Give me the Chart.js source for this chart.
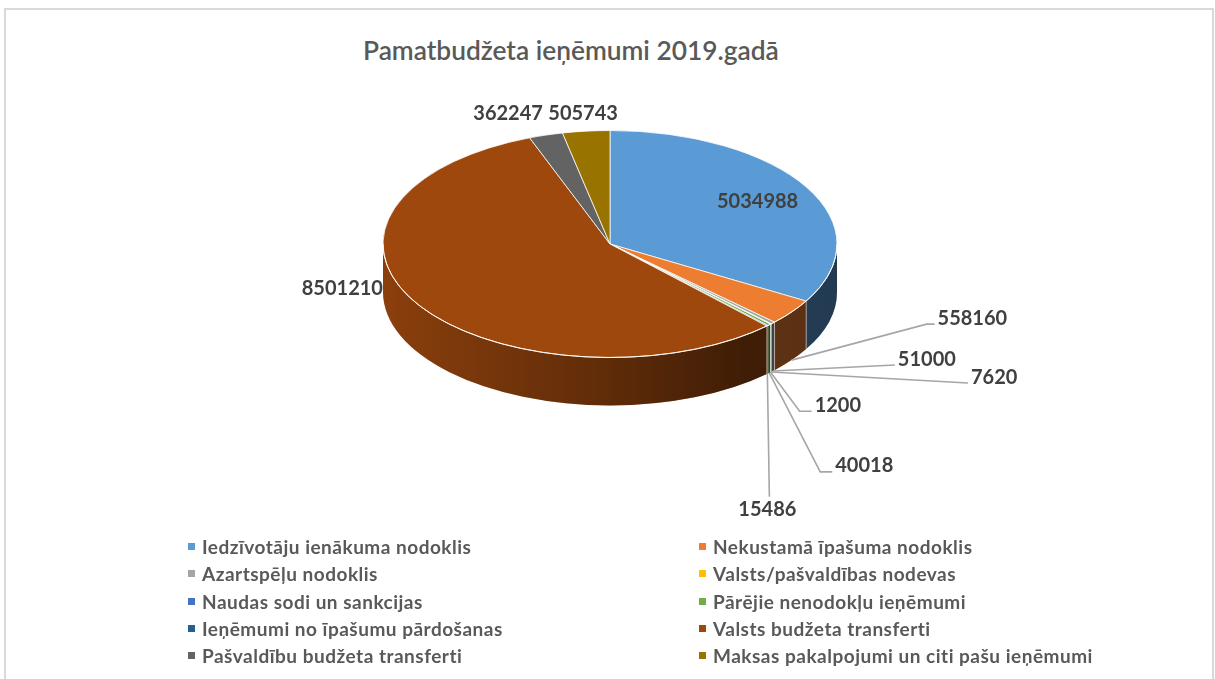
<!DOCTYPE html>
<html>
<head>
<meta charset="utf-8">
<script src="https://cdn.jsdelivr.net/npm/chart.js@4.4.1/dist/chart.umd.min.js"></script>
<style>
  html, body { margin: 0; padding: 0; background: #fff; overflow: hidden; }
  body { width: 1215px; height: 679px; position: relative; font-family: Lato, "Open Sans", sans-serif; }
  #frame { position: absolute; left: 4px; top: 8px; width: 1210px; height: 720px; border: 2px solid #d9d9d9; box-sizing: border-box; }
  #title { position: absolute; left: 363px; top: 35px; font-size: 26.3px; line-height: 30px; color: #595959; font-weight: 600; white-space: nowrap; }
  #chart { position: absolute; left: 0; top: 0; }
  #legend { position: absolute; left: 188px; top: 533px; display: grid; grid-template-columns: 511px 420px; grid-auto-rows: 27.3px; font-size: 19px; letter-spacing: 0.5px; font-weight: 700; color: #595959; }
  .item { display: flex; align-items: center; white-space: nowrap; }
  .box { width: 7px; height: 7px; margin-right: 7px; flex: none; }
</style>
</head>
<body>
<div id="frame"></div>
<div id="title">Pamatbudžeta ieņēmumi 2019.gadā</div>
<canvas id="chart" width="1215" height="679"></canvas>
<div id="legend"></div>
<script>
const labels = [
  "Iedzīvotāju ienākuma nodoklis",
  "Nekustamā īpašuma nodoklis",
  "Azartspēļu nodoklis",
  "Valsts/pašvaldības nodevas",
  "Naudas sodi un sankcijas",
  "Pārējie nenodokļu ieņēmumi",
  "Ieņēmumi no īpašumu pārdošanas",
  "Valsts budžeta transferti",
  "Pašvaldību budžeta transferti",
  "Maksas pakalpojumi un citi pašu ieņēmumi"
];
const values = [5034988, 558160, 51000, 7620, 1200, 40018, 15486, 8501210, 362247, 505743];
const colors = ["#5b9bd5", "#ed7d31", "#a5a5a5", "#ffc000", "#4472c4", "#70ad47", "#255e91", "#9e480e", "#636363", "#997300"];

// where each value label goes, relative to its slice
const placement = [
  { type: "inside", k: 0.75 },
  { type: "callout", dx: 135, dy: -36, tail: 8 },
  { type: "callout", dx: 122, dy: -6, tail: 0 },
  { type: "callout", dx: 197, dy: 11, tail: 0 },
  { type: "callout", dx: 29, dy: 39, tail: 12 },
  { type: "callout", dx: 51, dy: 99, tail: 12 },
  { type: "callout", dx: 2, dy: 123, tail: 0, below: true },
  { type: "outside", dx: -35, dy: -16, align: "right" },
  { type: "outside", dx: -3, dy: -22, align: "right" },
  { type: "outside", dx: -3, dy: -18, align: "center" }
];

const DEPTH = 48;
const SQUASH = 0.5;

const pie3d = {
  id: "pie3d",
  beforeDatasetsDraw(chart) {
    const ctx = chart.ctx;
    const arcs = chart.getDatasetMeta(0).data;
    const cx = arcs[0].x, cy = arcs[0].y, rx = arcs[0].outerRadius, ry = rx * SQUASH;

    const grad = ctx.createLinearGradient(cx - rx, 0, cx + rx, 0);
    grad.addColorStop(0, "rgba(0,0,0,0.12)");
    grad.addColorStop(0.5, "rgba(0,0,0,0.40)");
    grad.addColorStop(0.8, "rgba(0,0,0,0.60)");
    grad.addColorStop(1, "rgba(0,0,0,0.62)");

    ctx.save();
    arcs.forEach((arc) => {
      const a1 = Math.max(arc.startAngle, 0), a2 = Math.min(arc.endAngle, Math.PI);
      if (a2 <= a1) return;
      ctx.beginPath();
      ctx.ellipse(cx, cy, rx, ry, 0, a1, a2);
      ctx.ellipse(cx, cy + DEPTH, rx, ry, 0, a2, a1, true);
      ctx.closePath();
      ctx.fillStyle = arc.options.backgroundColor;
      ctx.fill();
      ctx.fillStyle = grad;
      ctx.fill();
    });
    // seams between slices on the side
    ctx.strokeStyle = "rgba(255,255,255,0.45)";
    ctx.lineWidth = 1;
    arcs.forEach((arc) => {
      const a = arc.startAngle;
      if (a <= 0 || a >= Math.PI) return;
      const x = cx + rx * Math.cos(a), y = cy + ry * Math.sin(a);
      ctx.beginPath();
      ctx.moveTo(x, y);
      ctx.lineTo(x, y + DEPTH);
      ctx.stroke();
    });
    ctx.restore();

    ctx.save();
    ctx.translate(cx, cy);
    ctx.scale(1, SQUASH);
    ctx.translate(-cx, -cy);
  },
  afterDatasetsDraw(chart) {
    const ctx = chart.ctx;
    ctx.restore();
    const arcs = chart.getDatasetMeta(0).data;
    const cx = arcs[0].x, cy = arcs[0].y, rx = arcs[0].outerRadius, ry = rx * SQUASH;

    ctx.save();
    ctx.strokeStyle = "rgba(255,255,255,0.9)";
    ctx.lineWidth = 1;
    ctx.beginPath();
    ctx.ellipse(cx, cy, rx, ry, 0, 0, Math.PI);
    ctx.stroke();

    ctx.font = "bold 20px Lato, 'Open Sans', sans-serif";
    ctx.fillStyle = "#404040";
    ctx.textBaseline = "middle";
    ctx.strokeStyle = "#a6a6a6";
    ctx.lineWidth = 1.6;

    arcs.forEach((arc, i) => {
      const p = placement[i];
      const mid = (arc.startAngle + arc.endAngle) / 2;
      const text = String(values[i]);
      const ex = cx + rx * Math.cos(mid), ey = cy + ry * Math.sin(mid);
      if (p.type === "inside") {
        ctx.textAlign = "center";
        ctx.fillText(text, cx + p.k * rx * Math.cos(mid), cy + p.k * ry * Math.sin(mid));
      } else if (p.type === "outside") {
        ctx.textAlign = p.align;
        ctx.fillText(text, ex + p.dx, ey + p.dy);
      } else {
        const ax = ex, ay = ey + DEPTH;
        const bx = ax + p.dx, by = ay + p.dy;
        ctx.beginPath();
        ctx.moveTo(ax, ay);
        ctx.lineTo(bx, by);
        if (p.tail) ctx.lineTo(bx + p.tail, by);
        ctx.stroke();
        if (p.below) {
          ctx.textAlign = "center";
          ctx.fillText(text, bx - 2, by + 13);
        } else {
          ctx.textAlign = "left";
          ctx.fillText(text, bx + p.tail + 3, by - 6);
        }
      }
    });
    ctx.restore();
  }
};

new Chart(document.getElementById("chart"), {
  type: "pie",
  data: {
    labels: labels,
    datasets: [{
      data: values,
      backgroundColor: colors,
      borderColor: "#ffffff",
      borderWidth: 1,
      radius: 227,
      clip: false
    }]
  },
  options: {
    responsive: false,
    animation: false,
    events: [],
    layout: { padding: { left: 5, bottom: 191 } },
    plugins: { legend: { display: false }, tooltip: { enabled: false } }
  },
  plugins: [pie3d]
});

const legend = document.getElementById("legend");
labels.forEach((name, i) => {
  const item = document.createElement("div");
  item.className = "item";
  const box = document.createElement("span");
  box.className = "box";
  box.style.background = colors[i];
  item.appendChild(box);
  item.appendChild(document.createTextNode(name));
  legend.appendChild(item);
});
</script>
</body>
</html>
